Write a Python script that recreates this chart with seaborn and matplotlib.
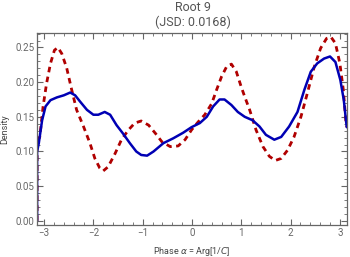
import numpy as np
import pandas as pd
import seaborn as sns
import matplotlib
matplotlib.use("Agg")
import matplotlib.pyplot as plt
from matplotlib.ticker import MultipleLocator

PI = np.pi
blue_x = [-PI, -PI, -3.107, -3.04, -2.97, -2.87, -2.74, -2.60, -2.47, -2.37, -2.27, -2.13, -2.00,
          -1.90, -1.77, -1.66, -1.53, -1.40, -1.26, -1.13, -1.03, -0.91, -0.78, -0.58, -0.38,
          -0.18, -0.01, 0.16, 0.30, 0.43, 0.56, 0.66, 0.80, 0.93, 1.07, 1.23, 1.37, 1.50, 1.67,
          1.81, 1.97, 2.14, 2.28, 2.41, 2.54, 2.68, 2.80, 2.91, 3.01, 3.08, 3.13, PI]
blue_y = [0.0, 0.100, 0.112, 0.145, 0.165, 0.174, 0.178, 0.181, 0.185, 0.181, 0.172, 0.160, 0.153,
          0.153, 0.157, 0.153, 0.138, 0.126, 0.112, 0.100, 0.095, 0.094, 0.100, 0.112, 0.119,
          0.127, 0.135, 0.141, 0.150, 0.165, 0.175, 0.175, 0.167, 0.157, 0.150, 0.145, 0.136, 0.124, 0.117,
          0.121, 0.136, 0.157, 0.189, 0.215, 0.227, 0.234, 0.237, 0.229, 0.203, 0.174, 0.141, 0.135]

red_x = [-PI, -PI, -3.087, -3.02, -2.95, -2.87, -2.79, -2.72, -2.64, -2.54, -2.44, -2.34, -2.20,
         -2.07, -1.97, -1.87, -1.80, -1.70, -1.56, -1.43, -1.29, -1.16, -1.03, -0.88, -0.74,
         -0.61, -0.44, -0.28, -0.14, -0.01, 0.13, 0.26, 0.40, 0.50, 0.60, 0.70, 0.80, 0.90,
         1.00, 1.07, 1.17, 1.30, 1.44, 1.57, 1.69, 1.81, 1.94, 2.07, 2.21, 2.34, 2.48, 2.61,
         2.73, 2.82, 2.91, 3.00, 3.07, 3.12, PI]
red_y = [0.0, 0.115, 0.121, 0.165, 0.198, 0.227, 0.246, 0.250, 0.241, 0.220, 0.189, 0.160, 0.136,
         0.112, 0.090, 0.076, 0.072, 0.078, 0.097, 0.117, 0.131, 0.141, 0.144, 0.138, 0.126,
         0.114, 0.107, 0.108, 0.117, 0.131, 0.143, 0.153, 0.169, 0.189, 0.208, 0.222, 0.226, 0.215,
         0.193, 0.179, 0.160, 0.131, 0.107, 0.093, 0.087, 0.090, 0.102, 0.121, 0.150, 0.184, 0.222, 0.249,
         0.263, 0.265, 0.256, 0.227, 0.189, 0.145, 0.135]

title1 = "Root 9"
title2 = "(JSD: 0.0168)"
xlabel = "Phase $\\alpha$ = Arg[1/$C$]"
ylabel = "Density"

sns.set_style("white")
plt.rcParams['font.family'] = ['Roboto', 'DejaVu Sans']
plt.rcParams['mathtext.fontset'] = 'dejavusans'

gray = "#666666"
fig = plt.figure(figsize=(3.5, 2.57), dpi=100)
ax = fig.add_axes([0.106, 0.1245, 0.885, 0.7475])

dfb = pd.DataFrame({"x": blue_x, "y": blue_y})
dfr = pd.DataFrame({"x": red_x, "y": red_y})
sns.lineplot(data=dfr, x="x", y="y", sort=False, ax=ax, color="#b00000", lw=2.0,
             linestyle=(0, (2.0, 1.6)), estimator=None)
sns.lineplot(data=dfb, x="x", y="y", sort=False, ax=ax, color="#0000b4", lw=1.8, estimator=None)

ax.set_xlim(-PI, PI)
ax.set_ylim(-0.006, 0.271)
ax.xaxis.set_major_locator(MultipleLocator(1))
ax.xaxis.set_minor_locator(MultipleLocator(0.2))
ax.yaxis.set_major_locator(MultipleLocator(0.05))
ax.yaxis.set_minor_locator(MultipleLocator(0.01))
ax.yaxis.set_major_formatter(matplotlib.ticker.FormatStrFormatter("%.2f"))
ax.tick_params(which="both", direction="in", top=True, right=True, bottom=True, left=True,
               color=gray, labelcolor=gray, labelsize=7, pad=2)
ax.tick_params(which="major", length=4, width=0.8)
ax.tick_params(which="minor", length=2, width=0.6)
for s in ax.spines.values():
    s.set_color(gray)
    s.set_linewidth(0.9)
ax.set_xlabel(xlabel, fontsize=6.5, color="#444444", labelpad=5)
ax.set_ylabel(ylabel, fontsize=6.5, color="#444444", labelpad=4)

fig.text(0.55, 0.972, title1, ha="center", va="center", fontsize=9, color="#555555")
fig.text(0.55, 0.915, title2, ha="center", va="center", fontsize=9, color="#555555")

fig.savefig("out.png", dpi=100)
